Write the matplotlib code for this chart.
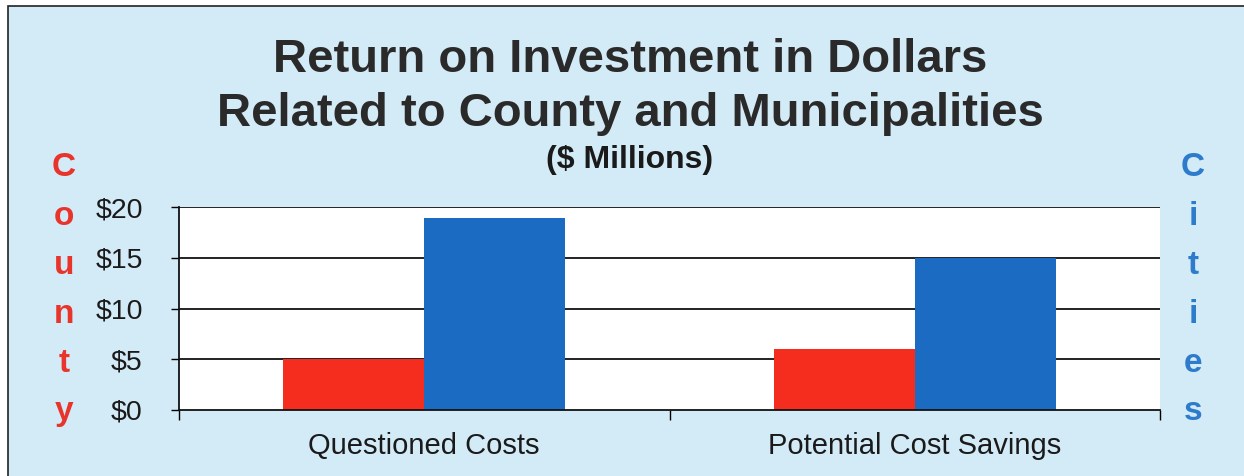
import matplotlib
matplotlib.use("Agg")
from matplotlib import pyplot as plt
from matplotlib.patches import Rectangle

# data
categories = ["Questioned Costs", "Potential Cost Savings"]
county_values = [5.0, 6.0]
cities_values = [18.9, 15.0]
y_ticks = [0, 5, 10, 15, 20]
y_tick_labels = ["$0", "$5", "$10", "$15", "$20"]
title_lines = ["Return on Investment in Dollars", "Related to County and Municipalities"]
subtitle = "($ Millions)"
left_word = "County"
right_word = "Cities"

BG = "#d3eaf7"
RED = "#f52d1e"
BLUE = "#1b6bc3"
RED_TXT = "#e8342a"
BLUE_TXT = "#2c7ccb"
W, H = 1244, 476

plt.rcParams["font.family"] = ["Liberation Sans", "DejaVu Sans"]

fig = plt.figure(figsize=(W / 100, H / 100), dpi=100, facecolor="white")

# light blue panel with a thin frame on left/top
panel = Rectangle((8 / W, -0.05), 1.1, 1 - 6 / H + 0.05, transform=fig.transFigure,
                  facecolor=BG, edgecolor="#222222", linewidth=1.2, zorder=-10)
fig.patches.append(panel)

ax = fig.add_axes([179 / W, 1 - 410 / H, (1160 - 179) / W, (410 - 207) / H])
ax.set_facecolor("white")

x = list(range(len(categories)))
bw = 0.2875
ax.bar([i - bw / 2 for i in x], county_values, width=bw, color=RED, zorder=3)
ax.bar([i + bw / 2 for i in x], cities_values, width=bw, color=BLUE, zorder=3)

ax.set_xlim(-0.5, len(categories) - 0.5)
ax.set_ylim(0, 20)
ax.set_yticks(y_ticks)
ax.set_yticklabels(y_tick_labels, fontsize=20.5, color="#1a1a1a")
ax.set_xticks([i - 0.5 for i in range(len(categories) + 1)])
ax.set_xticklabels([])
ax.set_xticks(x, minor=True)
ax.set_xticklabels(categories, minor=True, fontsize=21, color="#1a1a1a")
ax.tick_params(axis="x", which="minor", length=0, pad=16)
ax.tick_params(axis="x", which="major", length=7, width=1.0, direction="out")
ax.tick_params(axis="y", length=6, width=1.0, pad=20)

for v in y_ticks[1:]:
    ax.axhline(v, color="#111111", linewidth=1.3, zorder=1)

for side in ["top", "right"]:
    ax.spines[side].set_visible(False)
for side in ["left", "bottom"]:
    ax.spines[side].set_color("#111111")
    ax.spines[side].set_linewidth(1.3)
ax.spines["bottom"].set_zorder(4)

# title block
cx = 630 / W
fig.text(cx, 1 - 72 / H, title_lines[0], ha="center", va="baseline",
         fontsize=34, fontweight="bold", color="#2a2a2a")
fig.text(cx, 1 - 126 / H, title_lines[1], ha="center", va="baseline",
         fontsize=34, fontweight="bold", color="#2a2a2a")
fig.text(cx, 1 - 168 / H, subtitle, ha="center", va="baseline",
         fontsize=23, fontweight="bold", color="#1a1a1a")

# vertical side words, one letter per line
letter_base = [176, 225, 274, 323, 372, 420]
for ch, yy in zip(left_word, letter_base):
    fig.text(64 / W, 1 - yy / H, ch, ha="center", va="baseline",
             fontsize=24, fontweight="bold", color=RED_TXT)
for ch, yy in zip(right_word, letter_base):
    fig.text(1193 / W, 1 - yy / H, ch, ha="center", va="baseline",
             fontsize=24, fontweight="bold", color=BLUE_TXT)

fig.savefig("out.png", dpi=100, facecolor=fig.get_facecolor())
